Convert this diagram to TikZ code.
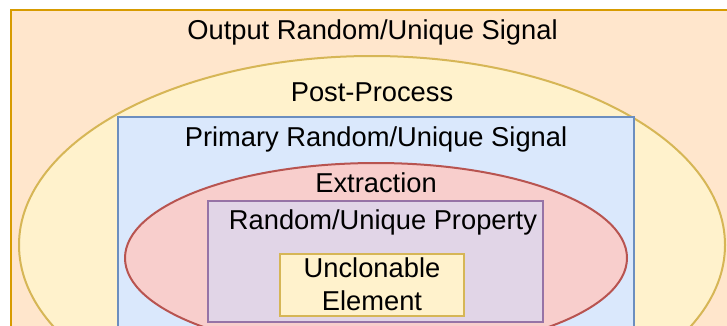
\documentclass[tikz,border=0pt]{standalone}
\usepackage{fontspec}
\setmainfont{Liberation Sans}
\definecolor{orangefill}{HTML}{FFE6CC}
\definecolor{orangeline}{HTML}{D79B00}
\definecolor{yellowfill}{HTML}{FFF2CC}
\definecolor{yellowline}{HTML}{D6B656}
\definecolor{bluefill}{HTML}{DAE8FC}
\definecolor{blueline}{HTML}{6C8EBF}
\definecolor{redfill}{HTML}{F8CECC}
\definecolor{redline}{HTML}{B85450}
\definecolor{purplefill}{HTML}{E1D5E7}
\definecolor{purpleline}{HTML}{9673A6}
\begin{document}
\begin{tikzpicture}[x=1pt,y=-1pt,
  layer/.style={line width=2pt},
  label/.style={anchor=base,inner sep=0pt,font=\fontsize{27.3}{31}\selectfont}]
\useasboundingbox (0,0) rectangle (727,325);
\clip (0,0) rectangle (727,325);
\fill[white] (0,0) rectangle (727,325);
% nested layers, outermost first
\draw[layer,line width=2.5pt,fill=orangefill,draw=orangeline] (11,10) rectangle (760,360);
\draw[layer,fill=yellowfill,draw=yellowline] (372,245) ellipse [x radius=353pt, y radius=189pt];
\draw[layer,fill=bluefill,draw=blueline] (118,117) rectangle (634,360);
\draw[layer,fill=redfill,draw=redline] (376,258) ellipse [x radius=251pt, y radius=95pt];
\draw[layer,fill=purplefill,draw=purpleline] (208,201) rectangle (543,322);
\draw[layer,fill=yellowfill,draw=yellowline] (280,254) rectangle (464,316);
% captions
\node[label] (output)     at (372.5,39)  {Output Random/Unique Signal};
\node[label] (postproc)   at (372,101)   {Post-Process};
\node[label] (primary)    at (376,146)   {Primary Random/Unique Signal};
\node[label] (extraction) at (376,192)   {Extraction};
\node[label] (property)   at (383,229)   {Random/Unique Property};
\node[label] (uncl)       at (372,277)   {Unclonable};
\node[label] (element)    at (372,310)   {Element};
\end{tikzpicture}
\end{document}
